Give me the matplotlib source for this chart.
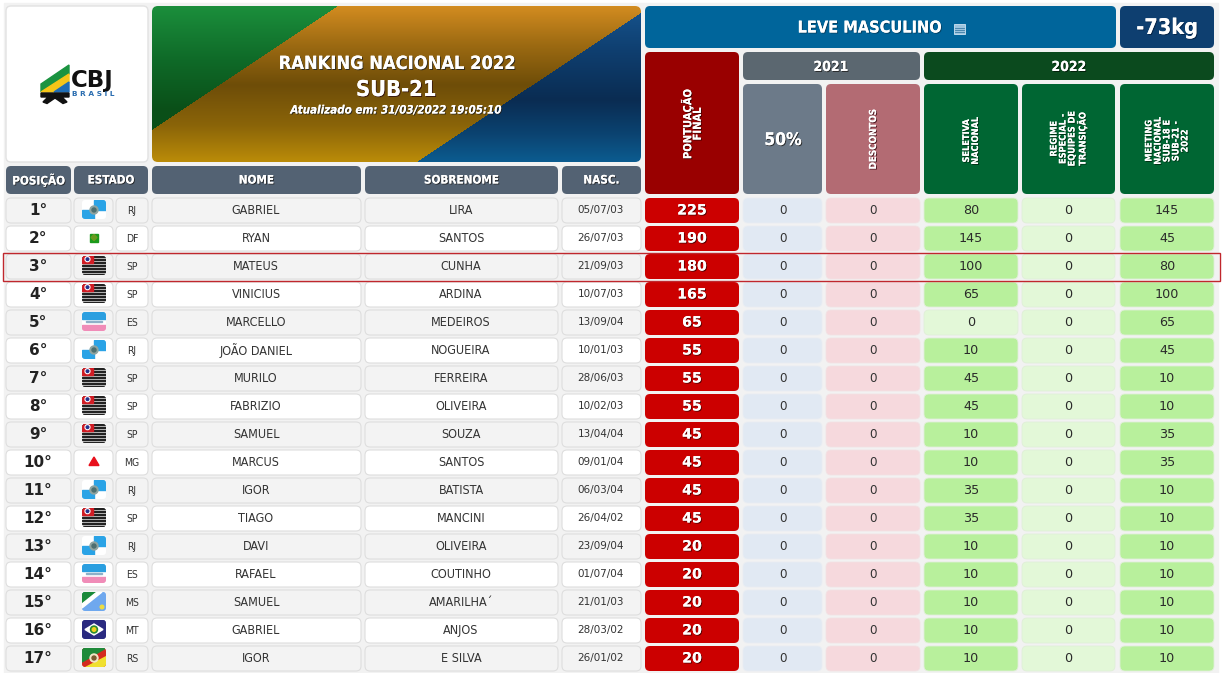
import numpy as np
import matplotlib
matplotlib.use("Agg")
import matplotlib.pyplot as plt
import matplotlib.patheffects as pe
from matplotlib.patches import FancyBboxPatch, Rectangle, Polygon, Circle
from matplotlib.colors import to_rgb

plt.rcParams['font.family'] = ['DejaVu Sans']
plt.rcParams['font.stretch'] = 'condensed'

# table data
POSITIONS = ["1°", "2°", "3°", "4°", "5°", "6°", "7°", "8°", "9°", "10°", "11°", "12°", "13°", "14°", "15°", "16°", "17°"]
STATES = ["RJ", "DF", "SP", "SP", "ES", "RJ", "SP", "SP", "SP", "MG", "RJ", "SP", "RJ", "ES", "MS", "MT", "RS"]
FIRST_NAMES = ["GABRIEL", "RYAN", "MATEUS", "VINICIUS", "MARCELLO", "JOÃO DANIEL", "MURILO", "FABRIZIO", "SAMUEL",
               "MARCUS", "IGOR", "TIAGO", "DAVI", "RAFAEL", "SAMUEL", "GABRIEL", "IGOR"]
LAST_NAMES = ["LIRA", "SANTOS", "CUNHA", "ARDINA", "MEDEIROS", "NOGUEIRA", "FERREIRA", "OLIVEIRA", "SOUZA",
              "SANTOS", "BATISTA", "MANCINI", "OLIVEIRA", "COUTINHO", "AMARILHA´", "ANJOS", "E SILVA"]
BIRTH_DATES = ["05/07/03", "26/07/03", "21/09/03", "10/07/03", "13/09/04", "10/01/03", "28/06/03", "10/02/03", "13/04/04",
               "09/01/04", "06/03/04", "26/04/02", "23/09/04", "01/07/04", "21/01/03", "28/03/02", "26/01/02"]
FINAL_SCORE = [225, 190, 180, 165, 65, 55, 55, 55, 45, 45, 45, 45, 20, 20, 20, 20, 20]
HALF_2021 = [0] * 17
DISCOUNTS = [0] * 17
SELETIVA = [80, 145, 100, 65, 0, 10, 45, 45, 10, 10, 35, 35, 10, 10, 10, 10, 10]
REGIME = [0] * 17
MEETING = [145, 45, 80, 100, 65, 45, 10, 10, 35, 35, 10, 10, 10, 10, 10, 10, 10]

# column edges in pixels
COL = dict(pos=(6, 71), flag=(74, 113), uf=(116, 148), first=(152, 361), last=(365, 558), nasc=(562, 641),
           score=(645, 739), half=(743, 823), disc=(826, 920), sel=(924, 1019), reg=(1022, 1116), meet=(1120, 1215))
ROW_TOP = 198
ROW_STEP = 28
ROW_H = 25

fig = plt.figure(figsize=(12.23, 6.73), dpi=100)
ax = fig.add_axes([0, 0, 1, 1])
ax.set_xlim(0, 1223)
ax.set_ylim(673, 0)
ax.axis('off')


def box(x0, y0, x1, y1, color, edge='none', r=5, z=2, lw=1):
    p = FancyBboxPatch((x0, y0), x1 - x0, y1 - y0, boxstyle=f"round,pad=0,rounding_size={r}",
                       facecolor=color, edgecolor=edge, linewidth=lw, zorder=z)
    ax.add_patch(p)
    return p


def label(x, y, s, size=9, color='#333333', weight='normal', shadow=None, **kw):
    t = ax.text(x, y, s, fontsize=size, color=color, fontweight=weight, ha='center', va='center', zorder=6, **kw)
    if shadow:
        t.set_path_effects([pe.withSimplePatchShadow(offset=(0.7, -0.7), shadow_rgbFace=shadow, alpha=0.85), pe.Normal()])
    return t


def vgrad(y, stops):
    ys = [s[0] for s in stops]
    cols = np.array([to_rgb(s[1]) for s in stops])
    return np.stack([np.interp(y, ys, cols[:, i]) for i in range(3)], axis=-1)


def draw_banner():
    x0, y0, x1, y1 = 152, 6, 641, 162
    yy, xx = np.mgrid[y0:y1, x0:x1]
    yy = yy + 0.5
    xx = xx + 0.5
    green = vgrad(yy, [(6, '#1b8f3c'), (60, '#0f6a28'), (110, '#0a4f18'), (162, '#0a4f18')])
    gold = vgrad(yy, [(6, '#d38c20'), (45, '#9c6a12'), (85, '#6e4d08'), (125, '#8a6408'), (162, '#bb8c08')])
    blue = vgrad(yy, [(6, '#16548e'), (50, '#0f3f70'), (100, '#0a2c52'), (135, '#0b4472'), (162, '#0c5c90')])
    img = gold.copy()
    is_green = (xx - 152) * (130 - 6) + (yy - 6) * (338 - 152) < (130 - 6) * (338 - 152)
    is_blue = (xx - 417) * (162 - 13) + (yy - 162) * (641 - 417) > 0
    img[is_green] = green[is_green]
    img[is_blue] = blue[is_blue]
    clip = box(x0, y0, x1, y1, 'none', r=6, z=1)
    im = ax.imshow(img, extent=(x0, x1, y1, y0), aspect='auto', zorder=2, interpolation='bilinear')
    im.set_clip_path(clip)
    ax.set_xlim(0, 1223)
    ax.set_ylim(673, 0)


def draw_logo():
    ax.add_patch(Polygon([(41, 84), (69, 65), (69, 74), (41, 92)], color='#1a9340', zorder=3))
    ax.add_patch(Polygon([(41, 92), (69, 74), (69, 82), (53, 92)], color='#f5c518', zorder=3))
    ax.add_patch(Polygon([(54, 92), (69, 82), (69, 92)], color='#1f6db5', zorder=3))
    ax.add_patch(Polygon([(41, 93), (69, 93), (69, 97), (62, 97), (67, 102), (63, 103.5), (55, 98),
                          (47, 103.5), (43, 102), (48, 97), (41, 97)], color='#111111', zorder=3))
    label(92.5, 81, "CBJ", size=16.5, color='#111111', weight='bold', stretch='normal')
    label(93, 93.5, "B R A S I L", size=5.3, color='#2a6db0', weight='bold', stretch='normal')


def draw_flag(uf, yc):
    x0, x1 = 82, 106
    y0, y1 = yc - 10, yc + 9
    w, h = x1 - x0, y1 - y0
    clip = box(x0, y0, x1, y1, '#ffffff', r=3, z=3)
    parts = []
    if uf == "SP":
        for i in range(7):
            yy = y0 + i * h / 6.5
            parts.append(Rectangle((x0, yy), w, h / 13, color='#222222'))
        parts.append(Rectangle((x0, y0), 11, 6.5, color='#d01c24'))
        parts.append(Circle((x0 + 5.5, y0 + 3.2), 2.4, color='#ffffff'))
        parts.append(Circle((x0 + 5.5, y0 + 3.2), 1.3, color='#25308a'))
    elif uf == "RJ":
        parts.append(Rectangle((x0, yc), w / 2, h, color='#2aa3e6'))
        parts.append(Rectangle((x0 + w / 2, y0), w / 2, h / 2 + 0.5, color='#2aa3e6'))
        parts.append(Circle((x0 + w / 2, yc), 4, color='#8fa4a0'))
        parts.append(Circle((x0 + w / 2, yc), 2, color='#4e6f70'))
    elif uf == "DF":
        parts.append(Rectangle((x0 + 8, yc - 4.5), 8, 8, color='#1b9a1b'))
        parts.append(Polygon([(x0 + 12, yc - 3.5), (x0 + 15, yc - 0.5), (x0 + 12, yc + 2.5), (x0 + 9, yc - 0.5)],
                             color='#6a9a20'))
    elif uf == "ES":
        parts.append(Rectangle((x0, y0), w, h * 0.35, color='#2b9fe0'))
        parts.append(Rectangle((x0, y0 + h * 0.68), w, h * 0.32, color='#f08cb8'))
        parts.append(Rectangle((x0 + 4, y0 + h * 0.45), w - 8, 1, color='#8fb0c8'))
    elif uf == "MG":
        parts.append(Polygon([(x0 + 12, yc - 5), (x0 + 17, yc + 3.5), (x0 + 7, yc + 3.5)], color='#e8101c'))
    elif uf == "MS":
        parts.append(Rectangle((x0, y0), w, h, color='#6fa8ee'))
        parts.append(Polygon([(x0, y0), (x0 + 15, y0), (x0, y0 + 12)], color='#1a8a3a'))
        parts.append(Polygon([(x0 + 15, y0), (x0 + 20, y0), (x0, y0 + 16), (x0, y0 + 12)], color='#ffffff'))
        parts.append(Circle((x0 + 20, y1 - 4), 1.8, color='#eedd40'))
    elif uf == "MT":
        parts.append(Rectangle((x0, y0), w, h, color='#2a2a80'))
        parts.append(Polygon([(x0 + 3, yc - 0.5), (x0 + 12, yc - 6), (x0 + 21, yc - 0.5), (x0 + 12, yc + 5)],
                             color='#ffffff'))
        parts.append(Circle((x0 + 12, yc - 0.5), 3.5, color='#2a8a30'))
        parts.append(Circle((x0 + 12, yc - 0.5), 1.8, color='#f0d020'))
    elif uf == "RS":
        parts.append(Rectangle((x0, y0), w, h, color='#d42a20'))
        parts.append(Polygon([(x0, y0), (x0 + w, y0), (x0, y1 - 5)], color='#1f8a3a'))
        parts.append(Polygon([(x0 + w, y0 + 8), (x0 + w, y1), (x0 + 3, y1)], color='#f0e030'))
        parts.append(Circle((x0 + w / 2, yc), 4, color='#f2e6c8'))
        parts.append(Circle((x0 + w / 2, yc), 2, color='#7a5a30'))
    for part in parts:
        part.set_zorder(4)
        ax.add_patch(part)
        part.set_clip_path(clip)


# page background
ax.add_patch(Rectangle((4, 3), 1214, 670, color='#f2f2f2', zorder=0))

# top blocks
box(6, 6, 148, 162, '#ffffff', edge='#e2e2e2')
draw_logo()
draw_banner()
label(397, 64, "RANKING NACIONAL 2022", size=13.1, color='#ffffff', weight='bold', shadow='#222222')
label(396, 90, "SUB-21", size=15.7, color='#ffffff', weight='bold', shadow='#301010')
label(396, 110, "Atualizado em: 31/03/2022 19:05:10", size=8.3, color='#ffffff', weight='bold', style='italic',
      shadow='#222222')

box(645, 6, 1116, 48, '#00659b')
label(870, 28, "LEVE MASCULINO", size=11.7, color='#ffffff', weight='bold', shadow='#063a58')
ax.add_patch(Rectangle((954, 24), 11, 10, facecolor='#9cc4de', edgecolor='#cfe4f2', linewidth=0.6, zorder=4))
for gy in (27.5, 29.5, 31.5):
    ax.plot([955, 964], [gy, gy], color='#3d7da6', lw=0.6, zorder=5)
box(1120, 6, 1214, 48, '#0e3f70')
label(1167, 28, "-73kg", size=15.5, color='#ffffff', weight='bold', shadow='#062040')

# column headers
for key, text in [('pos', "POSIÇÃO"), ('first', "NOME"), ('last', "SOBRENOME"), ('nasc', "NASC.")]:
    x0, x1 = COL[key]
    box(x0, 166, x1, 194, '#536273')
    label((x0 + x1) / 2, 180, text, size=8.4, color='#ffffff', weight='bold', shadow='#222222')
box(74, 166, 148, 194, '#536273')
label(111, 180, "ESTADO", size=8.4, color='#ffffff', weight='bold', shadow='#222222')

box(*[COL['score'][0], 52, COL['score'][1], 194], '#990000')
label(692, 124, "PONTUAÇÃO\nFINAL", size=8, color='#ffffff', weight='bold', rotation=90, linespacing=0.95,
      shadow='#300000', multialignment='center')
box(743, 52, 920, 80, '#5b6770')
label(831, 67, "2021", size=10, color='#ffffff', weight='bold', shadow='#222222')
box(924, 52, 1214, 80, '#0b4a1e')
label(1069, 67, "2022", size=10, color='#ffffff', weight='bold', shadow='#021a08')
box(743, 84, 822, 194, '#6c7a89')
label(783, 140, "50%", size=12.5, color='#ffffff', weight='bold', shadow='#222222')
box(826, 84, 920, 194, '#b36b73')
label(873, 139, "DESCONTOS", size=7, color='#ffffff', weight='bold', rotation=90, shadow='#401018')
for key, text, yc in [('sel', "SELETIVA\nNACIONAL", 141), ('reg', "REGIME\nESPECIAL -\nEQUIPES DE\nTRANSIÇÃO", 139),
                      ('meet', "MEETING\nNACIONAL\nSUB-18 E\nSUB-21 -\n2022", 141)]:
    x0, x1 = COL[key]
    box(x0, 84, x1 - 1, 194, '#006633')
    label((x0 + x1 - 1) / 2, yc, text, size=6.6, color='#ffffff', weight='bold', rotation=90, linespacing=1.0,
          shadow='#002a10', multialignment='center')

# data rows
for i in range(len(POSITIONS)):
    top = ROW_TOP + i * ROW_STEP
    bot = top + ROW_H
    yc = (top + bot) / 2
    base = '#f3f3f3' if i % 2 == 0 else '#ffffff'
    for key in ('pos', 'flag', 'uf', 'first', 'last', 'nasc'):
        x0, x1 = COL[key]
        box(x0, top, x1, bot, base, edge='#dedede', lw=0.8)
    label(38, yc, POSITIONS[i], size=11, color='#222222', weight='bold', stretch='normal')
    draw_flag(STATES[i], yc - 0.5)
    label(132, yc, STATES[i], size=7.5, color='#333333')
    label(256, yc, FIRST_NAMES[i], size=9, color='#333333')
    label(461, yc, LAST_NAMES[i], size=9, color='#333333')
    label(601, yc, BIRTH_DATES[i], size=7.5, color='#333333', stretch='normal')

    box(COL['score'][0], top, COL['score'][1], bot, '#cc0000')
    label(692, yc, str(FINAL_SCORE[i]), size=10.2, color='#ffffff', weight='bold', stretch='normal', shadow='#400000')
    box(COL['half'][0], top, COL['half'][1] - 1, bot, '#e1e9f3', edge='#e9edf2', lw=0.6)
    label(783, yc, str(HALF_2021[i]), size=9.5, color='#333333')
    box(COL['disc'][0], top, COL['disc'][1], bot, '#f6d9dd', edge='#f2e2e4', lw=0.6)
    label(873, yc, str(DISCOUNTS[i]), size=9.5, color='#333333')
    for key, vals in (('sel', SELETIVA), ('reg', REGIME), ('meet', MEETING)):
        x0, x1 = COL[key]
        v = vals[i]
        col = '#b8f09c' if v > 0 else '#e3f8d8'
        box(x0, top, x1 - 1, bot, col, edge='#e0efd8', lw=0.6)
        label((x0 + x1 - 1) / 2, yc, str(v), size=9.2, color='#2a2a2a', stretch='normal')

# highlighted row
ax.add_patch(Rectangle((2.5, 252.5), 1217, 28, fill=False, edgecolor='#c0272d', linewidth=1, zorder=7))

fig.savefig('out.png', dpi=100)
